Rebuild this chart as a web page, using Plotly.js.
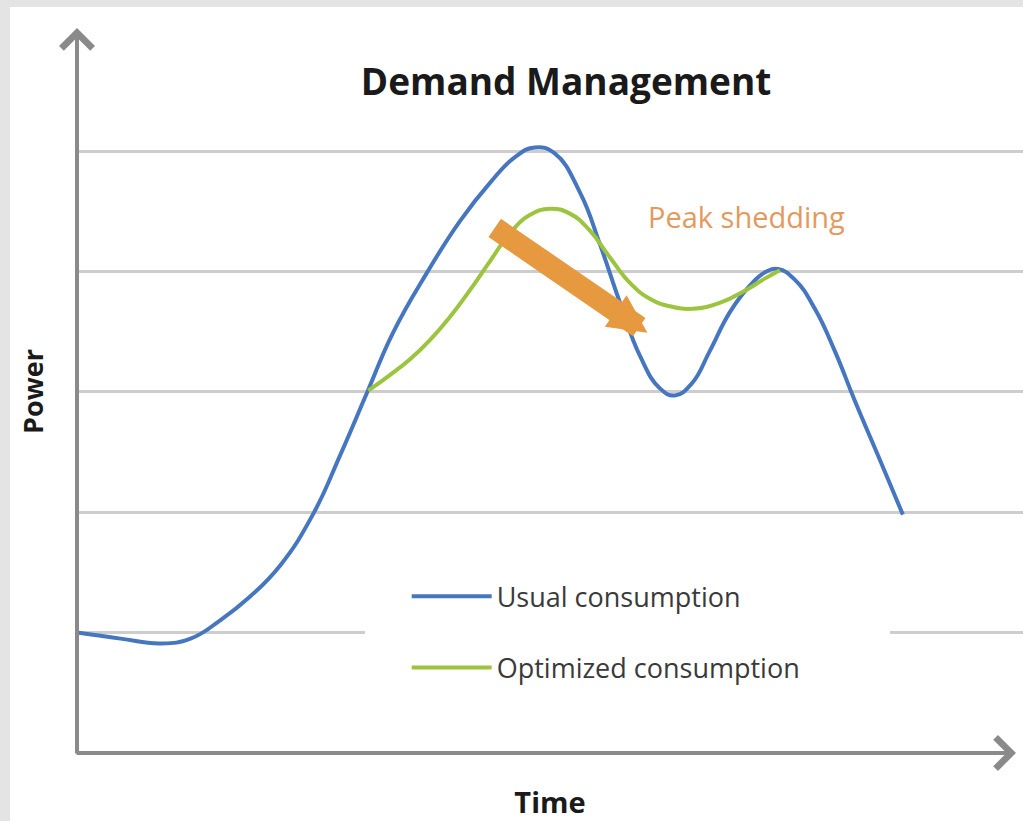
<!DOCTYPE html>
<html>
<head>
<meta charset="utf-8">
<script src="https://cdn.plot.ly/plotly-3.0.1.min.js"></script>
<style>html,body{margin:0;padding:0;background:#e4e4e4;}#chart{width:1023px;height:821px;}</style>
</head>
<body>
<div id="chart"></div>
<script>
// Time (arbitrary units) and power (grid units)
const timeUsual = [0.00,0.46,0.88,1.20,1.51,1.83,2.15,2.50,2.78,3.07,3.34,3.70,4.05,4.37,4.63,4.84,5.05,5.32,5.53,5.74,5.95,6.16,6.32,6.50,6.69,6.90,7.11,7.27,7.41,7.59,7.80,8.01,8.22,8.49,8.73];
const powerUsual = [1.00,0.95,0.91,0.95,1.10,1.30,1.56,1.99,2.47,3.00,3.49,3.99,4.42,4.74,4.95,5.03,4.98,4.65,4.22,3.74,3.30,3.03,2.97,3.07,3.34,3.66,3.88,3.99,4.02,3.93,3.69,3.34,2.93,2.43,1.98];
const timeOptimized = [3.08,3.31,3.52,3.73,3.94,4.15,4.37,4.58,4.79,5.00,5.21,5.42,5.63,5.85,6.06,6.27,6.51,6.80,7.06,7.27,7.43];
const powerOptimized = [3.01,3.14,3.27,3.43,3.62,3.84,4.09,4.32,4.47,4.52,4.48,4.34,4.12,3.90,3.77,3.71,3.69,3.74,3.84,3.94,4.01];
const seriesNames = ["Usual consumption", "Optimized consumption"];
const chartTitle = "Demand Management";
const xLabel = "Time";
const yLabel = "Power";
const arrowLabel = "Peak shedding";
// Peak shedding arrow: from (time, power) to (time, power)
const shedFrom = [4.40, 4.37];
const shedTo = [6.03, 3.49];
const labelPos = [7.08, 4.46];

const FONT = "Open Sans, Lato, sans-serif";

const traces = [
  {x: timeUsual, y: powerUsual, name: seriesNames[0], type: "scatter", mode: "lines",
   line: {color: "#4676bf", width: 4, shape: "spline", smoothing: 1.3}, legendgroup: "a", hoverinfo: "skip"},
  {x: timeOptimized, y: powerOptimized, name: seriesNames[1], type: "scatter", mode: "lines",
   line: {color: "#9cc43e", width: 4, shape: "spline", smoothing: 1.3}, legendgroup: "b", hoverinfo: "skip"}
];

const layout = {
  width: 1023, height: 821,
  margin: {l: 77, r: 0, t: 30, b: 68},
  paper_bgcolor: "#e4e4e4",
  plot_bgcolor: "rgba(0,0,0,0)",
  title: {text: chartTitle, x: 0.517, xref: "paper", xanchor: "center", y: 0.9, yanchor: "middle",
          font: {family: FONT, size: 37, color: "#1a1a1a", weight: 700}},
  showlegend: true,
  legend: {x: 0.3485, y: 0.25, xanchor: "left", yanchor: "top", bgcolor: "rgba(255,255,255,0)",
           font: {family: FONT, size: 27, color: "#3a3a3a"}, itemwidth: 80,
           traceorder: "grouped", tracegroupgap: 33},
  xaxis: {range: [0, 10], showgrid: false, zeroline: false, showline: false, showticklabels: false, ticks: "",
          title: {text: xLabel, standoff: 39, font: {family: FONT, size: 29, color: "#1a1a1a", weight: 700}}},
  yaxis: {range: [0, 6.005], dtick: 1, tick0: 0, showgrid: true, gridcolor: "#cdcdcd", gridwidth: 3,
          zeroline: false, showline: false, showticklabels: false, ticks: "",
          title: {text: yLabel, standoff: 24, font: {family: FONT, size: 27, color: "#1a1a1a", weight: 700}}},
  shapes: [
    {type: "rect", xref: "paper", yref: "paper", x0: -0.0708, x1: 1.01, y0: -0.1, y1: 1.0318,
     fillcolor: "#ffffff", line: {width: 0}, layer: "below"},
    {type: "rect", xref: "paper", yref: "paper", x0: 0.3044, x1: 0.8594, y0: 0.07, y1: 0.25,
     fillcolor: "#ffffff", line: {width: 0}, layer: "above"}
  ],
  annotations: [
    {xref: "paper", yref: "paper", x: 0, y: 1.0028, ax: 0, ay: 727, text: "", showarrow: true,
     arrowhead: 4, arrowsize: 1.5, arrowwidth: 4, arrowcolor: "#8a8a8a"},
    {xref: "paper", yref: "paper", x: 0.9926, y: 0, ax: -941, ay: 0, text: "", showarrow: true,
     arrowhead: 4, arrowsize: 1.5, arrowwidth: 4, arrowcolor: "#8a8a8a"},
    {xref: "x", yref: "y", axref: "x", ayref: "y", x: shedTo[0], y: shedTo[1], ax: shedFrom[0], ay: shedFrom[1],
     text: "", showarrow: true, arrowhead: 2, arrowsize: 0.35, arrowwidth: 22, arrowcolor: "#e6993f"},
    {xref: "x", yref: "y", x: labelPos[0], y: labelPos[1], text: arrowLabel, showarrow: false,
     font: {family: FONT, size: 29, color: "#e39a5c"}}
  ]
};

Plotly.newPlot("chart", traces, layout, {staticPlot: true, displayModeBar: false});
</script>
</body>
</html>
